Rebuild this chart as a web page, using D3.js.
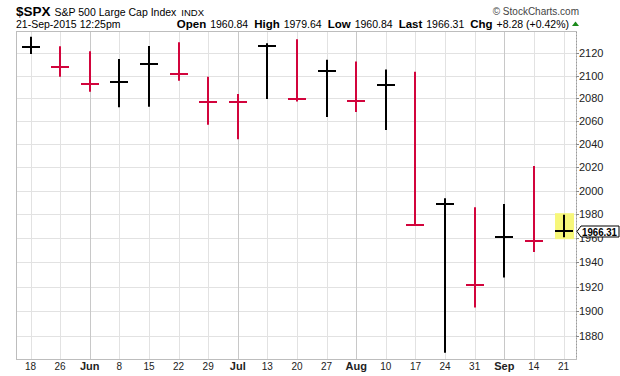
<!DOCTYPE html>
<html>
<head>
<meta charset="utf-8">
<script src="https://cdn.jsdelivr.net/npm/d3@7"></script>
<style>
body { margin: 0; background: #fff; }
svg { display: block; font-family: "Liberation Sans", Arial, sans-serif; }
</style>
</head>
<body>
<svg id="chart" width="620" height="376"></svg>
<script>
// weekly HLC bars, $SPX, May 18 - Sep 21 2015
var weekLabels = ["18", "26", "Jun", "8", "15", "22", "29", "Jul", "13", "20",
                  "27", "Aug", "10", "17", "24", "31", "Sep", "14", "21"];
var highs  = [2135.0, 2126.5, 2121.9, 2115.0, 2126.6, 2129.9, 2099.0, 2083.8, 2129.0, 2132.8,
              2114.2, 2112.7, 2105.4, 2103.5, 1993.5, 1986.0, 1988.6, 2020.9, 1979.64];
var lows   = [2119.5, 2099.0, 2085.7, 2072.1, 2072.5, 2095.5, 2056.6, 2044.0, 2079.3, 2077.0,
              2063.5, 2067.9, 2052.1, 1970.9, 1867.0, 1903.1, 1927.5, 1948.5, 1960.84];
var closes = [2126.1, 2107.4, 2092.8, 2094.1, 2110.0, 2101.5, 2076.8, 2076.6, 2126.6, 2079.7,
              2103.8, 2077.6, 2091.5, 1970.9, 1988.9, 1921.2, 1961.1, 1958.0, 1966.31];
var prevClose = 2122.7;   // close of the week before the first bar
var yTicks = [1880, 1900, 1920, 1940, 1960, 1980, 2000, 2020, 2040, 2060, 2080, 2100, 2120];

var headerStats = [["Open", "1960.84"], ["High", "1979.64"], ["Low", "1960.84"],
                   ["Last", "1966.31"], ["Chg", "+8.28 (+0.42%)"]];

var svg = d3.select("#chart");
var margin = {top: 32, bottom: 359, left: 16, right: 576};
var upColor = "#000000", downColor = "#d2043c";

var x = d3.scalePoint()
    .domain(d3.range(weekLabels.length))
    .range([30.5, 563.5]);

var y = d3.scaleLog()
    .domain([1862, 2139.3])
    .range([margin.bottom, margin.top]);

function crisp(v) { return Math.round(v) + 0.5; }

// ---- header ----
var h1 = svg.append("text").attr("x", 16).attr("y", 16).attr("fill", "#000");
h1.append("tspan").attr("font-weight", "bold").attr("font-size", 13.5).text("$SPX");
h1.append("tspan").attr("dx", 4).attr("font-size", 10.5).text("S&P 500 Large Cap Index");
h1.append("tspan").attr("dx", 5).attr("font-size", 9.5).text("INDX");

svg.append("text")
    .attr("x", 579).attr("y", 15)
    .attr("text-anchor", "end")
    .attr("font-size", 10)
    .attr("fill", "#444")
    .text("\u00a9 StockCharts.com");

svg.append("text")
    .attr("x", 16).attr("y", 28)
    .attr("font-size", 10.5)
    .text("21-Sep-2015 12:25pm");

var h2 = svg.append("text")
    .attr("x", 569).attr("y", 28)
    .attr("text-anchor", "end")
    .attr("font-size", 10.5);
headerStats.forEach(function(s, i) {
    h2.append("tspan").attr("dx", i == 0 ? 0 : 6).attr("font-weight", "bold").attr("font-size", 11.5).text(s[0]);
    h2.append("tspan").attr("dx", 4).text(s[1]);
});
svg.append("path")
    .attr("d", "M572,26L575.5,21.5L579,26Z")
    .attr("fill", "#1a8a1a");

// ---- grid ----
var grid = svg.append("g");
grid.selectAll("line.h")
    .data(yTicks)
    .enter().append("line")
    .attr("x1", margin.left).attr("x2", margin.right)
    .attr("y1", function(d) { return crisp(y(d)); })
    .attr("y2", function(d) { return crisp(y(d)); })
    .attr("stroke", "#e2e2e2");

grid.selectAll("line.v")
    .data(weekLabels)
    .enter().append("line")
    .attr("x1", function(d, i) { return crisp(x(i)); })
    .attr("x2", function(d, i) { return crisp(x(i)); })
    .attr("y1", margin.top).attr("y2", margin.bottom)
    .attr("stroke", function(d) { return isNaN(+d) ? "#c8c8c8" : "#e2e2e2"; });

// frame
svg.append("rect")
    .attr("x", margin.left + 0.5).attr("y", margin.top - 0.5)
    .attr("width", margin.right - margin.left)
    .attr("height", margin.bottom - margin.top + 1)
    .attr("fill", "none")
    .attr("stroke", "#bdbdbd");

// right axis (dotted, with labels)
svg.append("line")
    .attr("x1", margin.right + 0.5).attr("x2", margin.right + 0.5)
    .attr("y1", margin.top).attr("y2", margin.bottom)
    .attr("stroke", "#9a9a9a")
    .attr("stroke-dasharray", "1,2");

var yAxis = svg.append("g");
yAxis.selectAll("line")
    .data(yTicks)
    .enter().append("line")
    .attr("x1", margin.right).attr("x2", margin.right + 3)
    .attr("y1", function(d) { return crisp(y(d)); })
    .attr("y2", function(d) { return crisp(y(d)); })
    .attr("stroke", "#888");
yAxis.selectAll("text")
    .data(yTicks)
    .enter().append("text")
    .attr("x", 579)
    .attr("y", function(d) { return y(d) + 4; })
    .attr("font-size", 11)
    .attr("fill", "#222")
    .text(function(d) { return d; });

// x labels
svg.append("g").selectAll("text")
    .data(weekLabels)
    .enter().append("text")
    .attr("x", function(d, i) { return x(i); })
    .attr("y", 370)
    .attr("text-anchor", "middle")
    .attr("font-size", function(d) { return isNaN(+d) ? 11 : 10; })
    .attr("font-weight", function(d) { return isNaN(+d) ? "bold" : "normal"; })
    .attr("fill", "#222")
    .text(function(d) { return d; });

// ---- bars ----
var last = weekLabels.length - 1;
svg.append("rect")
    .attr("x", Math.round(x(last)) - 9)
    .attr("y", y(highs[last]) - 1.5)
    .attr("width", 19)
    .attr("height", y(lows[last]) - y(highs[last]) + 3.5)
    .attr("fill", "#f7f77a");

var bars = svg.append("g").selectAll("g")
    .data(weekLabels)
    .enter().append("g")
    .attr("stroke", function(d, i) {
        var pc = i == 0 ? prevClose : closes[i - 1];
        return closes[i] >= pc ? upColor : downColor;
    })
    .attr("stroke-width", 2);

bars.append("line")
    .attr("x1", function(d, i) { return Math.round(x(i)); })
    .attr("x2", function(d, i) { return Math.round(x(i)); })
    .attr("y1", function(d, i) { return y(highs[i]); })
    .attr("y2", function(d, i) { return y(lows[i]); });

bars.append("line")
    .attr("x1", function(d, i) { return Math.round(x(i)) - 9; })
    .attr("x2", function(d, i) { return Math.round(x(i)) + 9; })
    .attr("y1", function(d, i) { return Math.round(y(closes[i])); })
    .attr("y2", function(d, i) { return Math.round(y(closes[i])); });

// last price tag (covers part of the 1960 label, as in the original)
var yc = Math.round(y(closes[last])) + 0.5;
svg.append("path")
    .attr("d", "M577," + yc + "L581," + (yc - 5.5) + "L619," + (yc - 5.5) + "L619," + (yc + 5.5) +
               "L581," + (yc + 5.5) + "Z")
    .attr("fill", "#fff")
    .attr("stroke", "#000");
svg.append("text")
    .attr("x", 582).attr("y", yc + 4)
    .attr("font-size", 10.5)
    .attr("font-weight", "bold")
    .attr("textLength", 35)
    .attr("lengthAdjust", "spacingAndGlyphs")
    .text(closes[last].toFixed(2));
</script>
</body>
</html>
